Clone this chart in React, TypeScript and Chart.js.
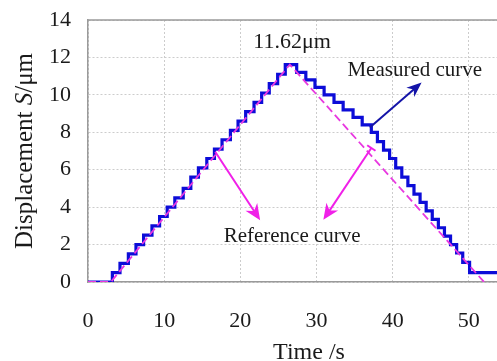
import React, { useEffect, useRef } from 'react';
import { Chart, registerables } from 'chart.js';

Chart.register(...registerables);

// ---- data ----
const measuredTime = [
  0, 3.2, 4.2, 5.3, 6.3, 7.3, 8.4, 9.4, 10.4, 11.4, 12.5, 13.5, 14.5, 15.6, 16.6, 17.6, 18.7,
  19.7, 20.7, 21.8, 22.8, 23.8, 24.9, 25.9, 27.4, 28.6, 29.8, 31.0, 32.3, 33.5, 34.8, 36.0,
  37.2, 38.0, 38.8, 39.6, 40.4, 41.2, 42.0, 42.8, 43.6, 44.4, 45.2, 46.0, 46.8, 47.6, 48.4,
  49.2, 50.1, 54.0,
];
const measuredValue = [
  0, 0.5, 1.0, 1.5, 2.0, 2.5, 3.0, 3.5, 4.0, 4.5, 5.0, 5.6, 6.1, 6.6, 7.1, 7.6, 8.1,
  8.6, 9.1, 9.6, 10.1, 10.6, 11.1, 11.62, 11.2, 10.8, 10.4, 10.0, 9.6, 9.2, 8.8, 8.4,
  8.0, 7.5, 7.05, 6.6, 6.1, 5.6, 5.15, 4.7, 4.25, 3.8, 3.35, 2.9, 2.45, 2.0, 1.55,
  1.05, 0.5, 0.5,
];
const referenceTime = [0, 3.0, 26.5, 52.0];
const referenceValue = [0, 0, 11.62, 0];
const xTickValues = [0, 10, 20, 30, 40, 50];
const yTickValues = [0, 2, 4, 6, 8, 10, 12, 14];

const peakText = '11.62μm';
const measuredText = 'Measured curve';
const referenceText = 'Reference curve';
const xTitle = 'Time /s';
const yTitleParts = ['Displacement ', 'S', '/μm'];

const SERIF = "'Liberation Serif', 'Times New Roman', serif";

function drawArrow(
  ctx: CanvasRenderingContext2D,
  x1: number, y1: number, x2: number, y2: number,
  color: string, lw: number, headLen: number, headW: number, startBar = 0,
) {
  const ang = Math.atan2(y2 - y1, x2 - x1);
  const c = Math.cos(ang), s = Math.sin(ang);
  const bx = x2 - headLen * c, by = y2 - headLen * s;
  ctx.save();
  ctx.strokeStyle = color;
  ctx.fillStyle = color;
  ctx.lineWidth = lw;
  ctx.setLineDash([]);
  ctx.beginPath();
  ctx.moveTo(x1, y1);
  ctx.lineTo(x2 - headLen * 0.6 * c, y2 - headLen * 0.6 * s);
  ctx.stroke();
  if (startBar > 0) {
    ctx.beginPath();
    ctx.moveTo(x1 + startBar * s, y1 - startBar * c);
    ctx.lineTo(x1 - startBar * s, y1 + startBar * c);
    ctx.stroke();
  }
  ctx.beginPath();
  ctx.moveTo(x2, y2);
  ctx.lineTo(bx + headW * s, by - headW * c);
  ctx.lineTo(x2 - headLen * 0.7 * c, y2 - headLen * 0.7 * s);
  ctx.lineTo(bx - headW * s, by + headW * c);
  ctx.closePath();
  ctx.fill();
  ctx.restore();
}

const annotationPlugin = {
  id: 'annotations',
  afterDraw(chart: any) {
    const { ctx, chartArea, scales } = chart;
    const X = (v: number) => scales.x.getPixelForValue(v);
    const Y = (v: number) => scales.y.getPixelForValue(v);
    ctx.save();
    // top border
    ctx.strokeStyle = '#9a9a9a';
    ctx.lineWidth = 1.5;
    ctx.beginPath();
    ctx.moveTo(chartArea.left, chartArea.top);
    ctx.lineTo(chartArea.right, chartArea.top);
    ctx.stroke();

    ctx.fillStyle = '#1a1a1a';
    ctx.textAlign = 'center';
    ctx.textBaseline = 'middle';
    ctx.font = `22px ${SERIF}`;
    ctx.fillText(peakText, X(26.8), Y(12.8));
    ctx.font = `21px ${SERIF}`;
    ctx.fillText(measuredText, X(42.9), Y(11.3));
    ctx.fillText(referenceText, X(26.8), Y(2.45));

    drawArrow(ctx, X(37.0), Y(8.25), X(43.8), Y(10.66), '#1414a8', 2, 15, 6);
    drawArrow(ctx, X(16.7), Y(6.96), X(22.6), Y(3.3), '#f020e8', 2, 16, 7);
    drawArrow(ctx, X(37.2), Y(7.16), X(30.9), Y(3.32), '#f020e8', 2, 16, 7, 5);

    // axis titles
    ctx.font = `24px ${SERIF}`;
    ctx.textAlign = 'center';
    ctx.textBaseline = 'alphabetic';
    ctx.fillText(xTitle, 309, chartArea.bottom + 77);

    ctx.translate(chartArea.left - 56, (chartArea.top + chartArea.bottom) / 2);
    ctx.rotate(-Math.PI / 2);
    const fonts = [`25px ${SERIF}`, `italic 25px ${SERIF}`, `25px ${SERIF}`];
    let total = 0;
    const widths = yTitleParts.map((p, i) => {
      ctx.font = fonts[i];
      const w = ctx.measureText(p).width;
      total += w;
      return w;
    });
    ctx.textAlign = 'left';
    let x = -total / 2;
    yTitleParts.forEach((p, i) => {
      ctx.font = fonts[i];
      ctx.fillText(p, x, 0);
      x += widths[i];
    });
    ctx.restore();
  },
};

export default function App() {
  const canvasRef = useRef<HTMLCanvasElement>(null);

  useEffect(() => {
    document.body.style.margin = '0';
    const canvas = canvasRef.current;
    if (!canvas) return;
    const chart = new Chart(canvas, {
      type: 'line',
      data: {
        datasets: [
          {
            label: 'Reference curve',
            data: referenceTime.map((t, i) => ({ x: t, y: referenceValue[i] })),
            borderColor: '#e838e0',
            borderWidth: 1.8,
            borderDash: [8, 4],
            pointRadius: 0,
            fill: false,
            tension: 0,
          },
          {
            label: 'Measured curve',
            data: measuredTime.map((t, i) => ({ x: t, y: measuredValue[i] })),
            borderColor: '#0c0cd8',
            borderWidth: 3.2,
            pointRadius: 0,
            stepped: true,
            fill: false,
          },
        ],
      },
      options: {
        animation: false,
        responsive: false,
        devicePixelRatio: 1,
        layout: { padding: { top: 20, left: 0, right: 0, bottom: 0 } },
        plugins: { legend: { display: false }, tooltip: { enabled: false } },
        scales: {
          x: {
            type: 'linear',
            min: 0,
            max: 53.7,
            afterBuildTicks: (scale: any) => {
              scale.ticks = xTickValues.map((v) => ({ value: v }));
            },
            afterFit: (scale: any) => {
              scale.height = 79;
              scale.paddingRight = 0;
              scale.paddingLeft = 0;
            },
            ticks: {
              color: '#1a1a1a',
              font: { family: SERIF, size: 22 },
              padding: 26,
              maxRotation: 0,
            },
            grid: { color: '#cccccc', lineWidth: 1, drawTicks: false },
            border: { color: '#9a9a9a', width: 1.5, dash: [2, 2] },
          },
          y: {
            type: 'linear',
            min: 0,
            max: 14,
            afterBuildTicks: (scale: any) => {
              scale.ticks = yTickValues.map((v) => ({ value: v }));
            },
            afterFit: (scale: any) => {
              scale.width = 88;
              scale.paddingTop = 0;
              scale.paddingBottom = 0;
            },
            ticks: {
              color: '#1a1a1a',
              font: { family: SERIF, size: 22 },
              padding: 17,
            },
            grid: { color: '#cccccc', lineWidth: 1, drawTicks: false },
            border: { color: '#9a9a9a', width: 1.5, dash: [2, 2] },
          },
        },
      },
      plugins: [annotationPlugin],
    });
    return () => chart.destroy();
  }, []);

  return (
    <div style={{ position: 'absolute', left: 0, top: 0, width: 497, height: 361, background: '#fff' }}>
      <canvas ref={canvasRef} width={497} height={361} />
    </div>
  );
}
